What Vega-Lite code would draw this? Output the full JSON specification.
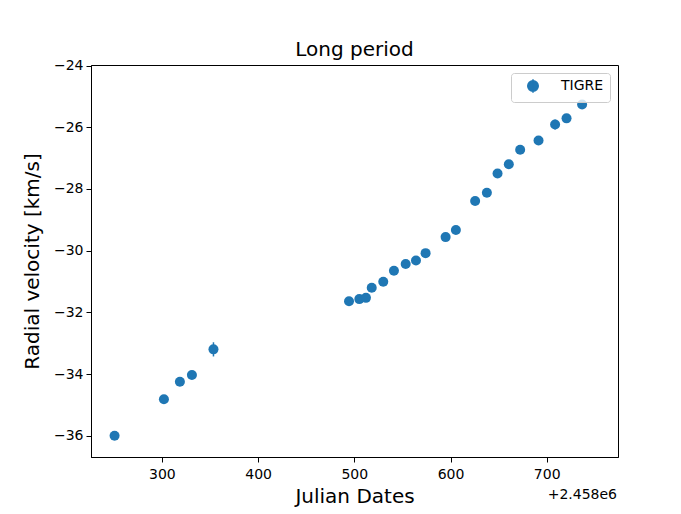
{
  "$schema": "https://vega.github.io/schema/vega-lite/v6.json",
  "width": 527,
  "height": 392,
  "autosize": {"type": "none"},
  "padding": {"left": 91, "top": 65, "right": 63, "bottom": 57},
  "background": "white",
  "config": {
    "view": {"stroke": "black", "strokeWidth": 1},
    "axis": {
      "domainColor": "black", "domainWidth": 1,
      "tickColor": "black", "tickWidth": 1, "tickSize": 5,
      "labelColor": "black", "titleColor": "black",
      "grid": false,
      "labelFont": "DejaVu Sans", "titleFont": "DejaVu Sans",
      "labelFontSize": 14, "titleFontSize": 20, "titleFontWeight": "normal"
    }
  },
  "title": {
    "text": "Long period",
    "font": "DejaVu Sans", "fontSize": 20, "fontWeight": "normal", "color": "black",
    "anchor": "middle", "frame": "group", "baseline": "bottom", "offset": -21
  },
  "data": {
    "values": [
      {"jd": 2458250.8, "rv": -36.00, "err": 0.12, "series": "TIGRE"},
      {"jd": 2458302.1, "rv": -34.82, "err": 0.12, "series": "TIGRE"},
      {"jd": 2458318.7, "rv": -34.25, "err": 0.12, "series": "TIGRE"},
      {"jd": 2458331.2, "rv": -34.03, "err": 0.12, "series": "TIGRE"},
      {"jd": 2458353.6, "rv": -33.20, "err": 0.23, "series": "TIGRE"},
      {"jd": 2458494.5, "rv": -31.64, "err": 0.12, "series": "TIGRE"},
      {"jd": 2458505.2, "rv": -31.57, "err": 0.12, "series": "TIGRE"},
      {"jd": 2458512.1, "rv": -31.53, "err": 0.12, "series": "TIGRE"},
      {"jd": 2458518.1, "rv": -31.20, "err": 0.12, "series": "TIGRE"},
      {"jd": 2458530.1, "rv": -31.01, "err": 0.12, "series": "TIGRE"},
      {"jd": 2458541.2, "rv": -30.65, "err": 0.12, "series": "TIGRE"},
      {"jd": 2458553.4, "rv": -30.43, "err": 0.12, "series": "TIGRE"},
      {"jd": 2458564.1, "rv": -30.32, "err": 0.12, "series": "TIGRE"},
      {"jd": 2458574.1, "rv": -30.08, "err": 0.12, "series": "TIGRE"},
      {"jd": 2458594.9, "rv": -29.56, "err": 0.12, "series": "TIGRE"},
      {"jd": 2458605.6, "rv": -29.33, "err": 0.12, "series": "TIGRE"},
      {"jd": 2458625.6, "rv": -28.39, "err": 0.12, "series": "TIGRE"},
      {"jd": 2458637.8, "rv": -28.12, "err": 0.12, "series": "TIGRE"},
      {"jd": 2458648.9, "rv": -27.50, "err": 0.12, "series": "TIGRE"},
      {"jd": 2458660.6, "rv": -27.20, "err": 0.12, "series": "TIGRE"},
      {"jd": 2458672.4, "rv": -26.73, "err": 0.12, "series": "TIGRE"},
      {"jd": 2458691.5, "rv": -26.43, "err": 0.12, "series": "TIGRE"},
      {"jd": 2458708.7, "rv": -25.91, "err": 0.16, "series": "TIGRE"},
      {"jd": 2458720.6, "rv": -25.71, "err": 0.12, "series": "TIGRE"},
      {"jd": 2458736.8, "rv": -25.26, "err": 0.12, "series": "TIGRE"}
    ]
  },
  "layer": [
    {
      "mark": {"type": "errorbar", "color": "#1f77b4", "thickness": 1.5},
      "encoding": {
        "x": {"field": "jd", "type": "quantitative", "title": "Julian Dates"},
        "y": {"field": "rv", "type": "quantitative", "title": "Radial velocity [km/s]"},
        "yError": {"field": "err"}
      }
    },
    {
      "mark": {"type": "point", "filled": true, "size": 100, "opacity": 1},
      "encoding": {
        "x": {
          "field": "jd", "type": "quantitative", "title": "Julian Dates",
          "scale": {"domain": [2458226.3, 2458774.1], "nice": false, "zero": false},
          "axis": {
            "values": [2458300, 2458400, 2458500, 2458600, 2458700],
            "labelExpr": "format(datum.value - 2458000, 'd')",
            "labelPadding": 5, "titlePadding": 5, "labelFlush": false
          }
        },
        "y": {
          "field": "rv", "type": "quantitative", "title": "Radial velocity [km/s]",
          "scale": {"domain": [-36.69, -23.98], "nice": false, "zero": false},
          "axis": {
            "values": [-36, -34, -32, -30, -28, -26, -24],
            "format": "d",
            "labelPadding": 3, "titlePadding": 11
          }
        },
        "color": {
          "field": "series", "type": "nominal",
          "scale": {"range": ["#1f77b4"]},
          "legend": {
            "title": null,
            "orient": "top-right",
            "offset": 8,
            "padding": 6,
            "cornerRadius": 3,
            "strokeColor": "#cccccc",
            "fillColor": "rgba(255,255,255,0.8)",
            "labelFont": "DejaVu Sans",
            "labelFontSize": 14,
            "labelColor": "black",
            "symbolType": "M0,-1.3L0,1.3M-1,0A1,1,0,1,0,1,0A1,1,0,1,0,-1,0Z",
            "symbolSize": 110,
            "symbolOffset": 9,
            "labelOffset": 21,
            "symbolOpacity": 1,
            "encode": {
              "symbols": {
                "update": {
                  "fill": {"value": "#1f77b4"},
                  "stroke": {"value": "#1f77b4"},
                  "strokeWidth": {"value": 1.5},
                  "opacity": {"value": 1}
                }
              }
            }
          }
        }
      }
    },
    {
      "data": {"values": [{"note": "+2.458e6", "jd": 2458774.1, "rv": -36.69}]},
      "mark": {"type": "text", "align": "right", "baseline": "alphabetic", "dy": 42, "dx": -1, "font": "DejaVu Sans", "fontSize": 14, "color": "black"},
      "encoding": {
        "x": {"field": "jd", "type": "quantitative", "title": "Julian Dates"},
        "y": {"field": "rv", "type": "quantitative", "title": "Radial velocity [km/s]"},
        "text": {"field": "note", "type": "nominal"}
      }
    }
  ]
}
